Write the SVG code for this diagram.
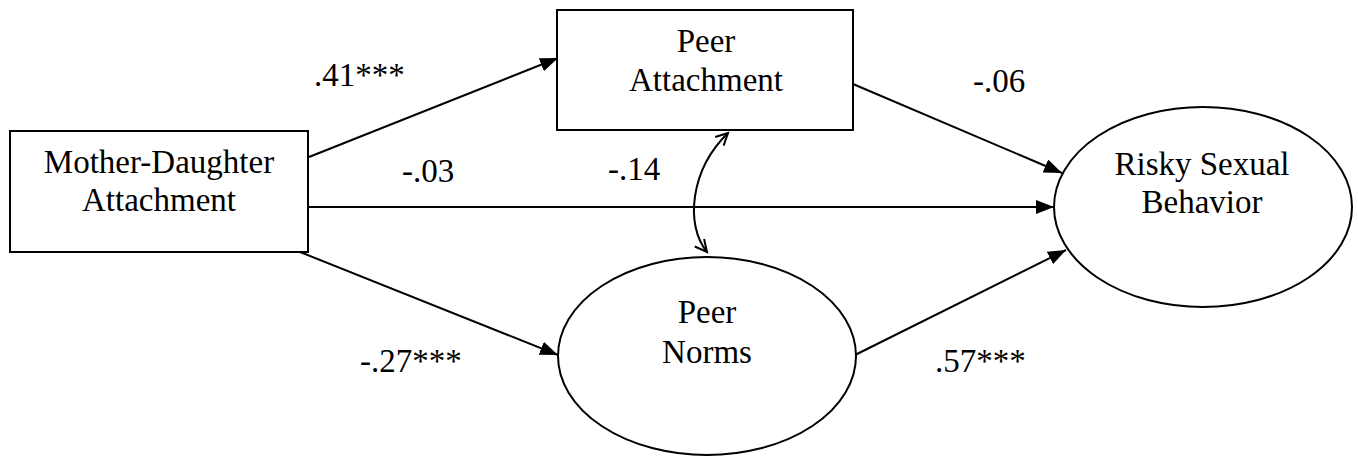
<svg xmlns="http://www.w3.org/2000/svg" width="1358" height="457" viewBox="0 0 1358 457">
<style>
.node{fill:#fff;stroke:#000;stroke-width:2}
.t{font-size:33px;fill:#000}
.c{text-anchor:middle}
.e{fill:none;stroke:#000;stroke-width:2}
</style>
<defs>
<marker id="ah" markerUnits="userSpaceOnUse" markerWidth="20" markerHeight="16" refX="18" refY="7" orient="auto">
<path d="M0,0 L18,7 L0,14 Z" fill="#000"/>
</marker>
<marker id="oh" markerUnits="userSpaceOnUse" markerWidth="16" markerHeight="16" refX="13" refY="7" orient="auto-start-reverse">
<path d="M1,1 L13,7 L1,13" fill="none" stroke="#000" stroke-width="2"/>
</marker>
</defs>
<rect width="1358" height="457" fill="#fff"/>
<g font-family="'Liberation Serif', 'DejaVu Serif', serif">
<g id="connectors">
<line class="e" x1="309" y1="157" x2="558" y2="58" marker-end="url(#ah)"/>
<line class="e" x1="309" y1="207" x2="1054" y2="207" marker-end="url(#ah)"/>
<line class="e" x1="300" y1="252" x2="558" y2="355" marker-end="url(#ah)"/>
<line class="e" x1="853" y1="84" x2="1062" y2="173" marker-end="url(#ah)"/>
<line class="e" x1="855" y1="355" x2="1066" y2="250" marker-end="url(#ah)"/>
<path class="e" d="M728,133 C690,170 685,225 707,252" marker-start="url(#oh)" marker-end="url(#oh)"/>
<text class="t" x="314" y="86">.41***</text>
<text class="t" x="402" y="182">-.03</text>
<text class="t" x="608" y="180">-.14</text>
<text class="t" x="973" y="92">-.06</text>
<text class="t" x="360" y="372">-.27***</text>
<text class="t" x="935" y="372">.57***</text>
</g>
<g id="mother-daughter">
<rect class="node" x="10" y="131" width="298" height="121"/>
<text class="t c" x="159" y="173">Mother-Daughter</text>
<text class="t c" x="159" y="211">Attachment</text>
</g>
<g id="peer-attachment">
<rect class="node" x="557" y="10" width="296" height="120"/>
<text class="t c" x="706" y="52">Peer</text>
<text class="t c" x="706" y="91">Attachment</text>
</g>
<g id="peer-norms">
<ellipse class="node" cx="707" cy="356" rx="149" ry="99"/>
<text class="t c" x="707" y="323">Peer</text>
<text class="t c" x="707" y="363">Norms</text>
</g>
<g id="risky-sexual-behavior">
<ellipse class="node" cx="1203" cy="207" rx="149" ry="100"/>
<text class="t c" x="1202" y="175">Risky Sexual</text>
<text class="t c" x="1202" y="213">Behavior</text>
</g>
</g>
</svg>
